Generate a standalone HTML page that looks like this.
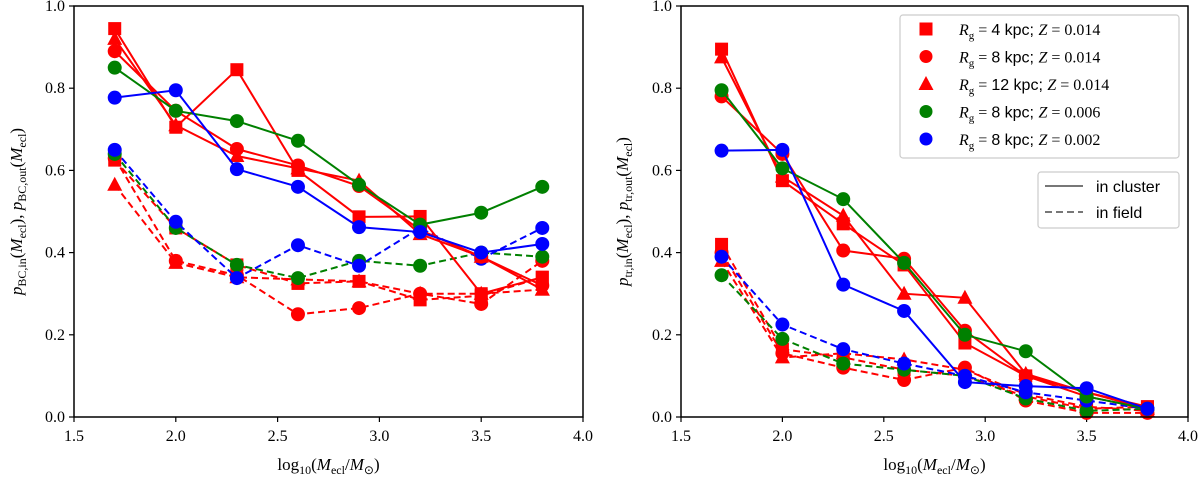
<!DOCTYPE html>
<html><head><meta charset="utf-8"><style>
body{margin:0;background:#fff;width:1200px;height:476px;overflow:hidden}
svg{font-family:"Liberation Serif",serif}
</style></head><body>
<svg id="chart" width="1200" height="476" xmlns="http://www.w3.org/2000/svg"></svg>
<script>
const xCats=[1.7,2.0,2.3,2.6,2.9,3.2,3.5,3.8];
const xTicks=[1.5,2.0,2.5,3.0,3.5,4.0];
const yTicks=[0.0,0.2,0.4,0.6,0.8,1.0];
const seriesNames=["rg4-z014","rg8-z014","rg12-z014","rg8-z006","rg8-z002"];
const seriesColors=["#ff0000","#ff0000","#ff0000","#008000","#0000ff"];
const seriesMarkers=["square","circle","triangle","circle","circle"];
const legendLabels=["4 kpc; ","8 kpc; ","12 kpc; ","8 kpc; ","8 kpc; "];
const legendZ=["0.014","0.014","0.014","0.006","0.002"];
// left panel p_BC
const bcIn4=[0.945,0.705,0.845,0.60,0.487,0.488,0.30,0.34];
const bcIn8=[0.89,0.745,0.652,0.612,0.562,0.455,0.39,0.32];
const bcIn12=[0.92,0.71,0.635,0.605,0.575,0.445,0.39,0.31];
const bcIn8z006=[0.85,0.745,0.72,0.672,0.565,0.468,0.497,0.56];
const bcIn8z002=[0.777,0.795,0.603,0.56,0.462,0.45,0.40,0.421];
const bcOut4=[0.625,0.46,0.37,0.325,0.33,0.285,0.295,0.34];
const bcOut8=[0.63,0.38,0.345,0.25,0.265,0.30,0.275,0.38];
const bcOut12=[0.565,0.375,0.34,0.335,0.33,0.30,0.30,0.31];
const bcOut8z006=[0.64,0.46,0.37,0.338,0.38,0.368,0.40,0.39];
const bcOut8z002=[0.65,0.475,0.338,0.418,0.368,0.46,0.385,0.46];
// right panel p_tr
const trIn4=[0.895,0.575,0.47,0.37,0.18,0.10,0.06,0.025];
const trIn8=[0.78,0.64,0.405,0.385,0.21,0.10,0.05,0.02];
const trIn12=[0.875,0.585,0.49,0.30,0.29,0.105,0.06,0.02];
const trIn8z006=[0.795,0.605,0.53,0.375,0.20,0.16,0.05,0.02];
const trIn8z002=[0.648,0.65,0.322,0.258,0.085,0.075,0.07,0.02];
const trOut4=[0.42,0.165,0.145,0.115,0.10,0.05,0.02,0.025];
const trOut8=[0.40,0.155,0.12,0.09,0.12,0.04,0.01,0.01];
const trOut12=[0.38,0.145,0.155,0.14,0.115,0.055,0.025,0.015];
const trOut8z006=[0.345,0.19,0.13,0.115,0.10,0.045,0.015,0.02];
const trOut8z002=[0.39,0.225,0.165,0.13,0.10,0.06,0.04,0.02];

const NS="http://www.w3.org/2000/svg";
const svg=document.getElementById('chart');
function mk(tag,attrs,parent,text){const e=document.createElementNS(NS,tag);for(const k in attrs)e.setAttribute(k,attrs[k]);if(text!==undefined)e.textContent=text;(parent||svg).appendChild(e);return e;}

function marker(g,type,cx,cy,color,r){
  let m;
  if(type==="square")m=mk('rect',{x:cx-6.5,y:cy-6.5,width:13,height:13,fill:color},g);
  else if(type==="triangle")m=mk('polygon',{points:`${cx},${cy-8} ${cx-7.5},${cy+6} ${cx+7.5},${cy+6}`,fill:color},g);
  else m=mk('circle',{cx:cx,cy:cy,r:r||7,fill:color},g);
  return m;
}

function panel(name,x0,x1,y0,y1,inSets,outSets,labelX,titleParts){
  const g=mk('g',{});
  
  
  const sx=v=>x0+(v-1.5)/(4.0-1.5)*(x1-x0);
  const sy=v=>y1-(v-0)/(1.0)*(y1-y0);
  // ticks
  xTicks.forEach(t=>{
    mk('line',{x1:sx(t),x2:sx(t),y1:y1,y2:y1+5,stroke:'#000','stroke-width':1.2},g);
    const tl=mk('text',{x:sx(t),y:y1+24,'text-anchor':'middle','font-size':16},g,t.toFixed(1));
    
    
  });
  yTicks.forEach(t=>{
    mk('line',{x1:x0-5,x2:x0,y1:sy(t),y2:sy(t),stroke:'#000','stroke-width':1.2},g);
    const tl=mk('text',{x:x0-9,y:sy(t)+5,'text-anchor':'end','font-size':16},g,t.toFixed(1));
    
    
  });
  const draw=(sets,dash)=>{
    sets.forEach((vals,i)=>{
      const pts=vals.map((v,j)=>sx(xCats[j])+','+sy(v)).join(' ');
      const l=mk('polyline',{points:pts,fill:'none',stroke:seriesColors[i],'stroke-width':2,'stroke-dasharray':dash?'7,4':'none'},g);
      
      
      vals.forEach((v,j)=>{
        const m=marker(g,seriesMarkers[i],sx(xCats[j]),sy(v),seriesColors[i]);
        
        
      });
    });
  };
  draw(outSets,true);
  draw(inSets,false);
  const fr=mk('rect',{x:x0,y:y0,width:x1-x0,height:y1-y0,fill:'none',stroke:'#000','stroke-width':1.5},g);
  
  
  const xt=mk('text',{x:(x0+x1)/2,y:470,'text-anchor':'middle','font-size':17},g);
  
  
  xt.innerHTML='log<tspan font-size="12" dy="4">10</tspan><tspan dy="-4">(</tspan><tspan font-style="italic">M</tspan><tspan font-size="12" dy="4">ecl</tspan><tspan dy="-4">/</tspan><tspan font-style="italic">M</tspan><tspan font-size="12" dy="4">⊙</tspan><tspan dy="-4">)</tspan>';
  const yt=mk('text',{x:0,y:0,'text-anchor':'middle','font-size':17,transform:`translate(${labelX},${(y0+y1)/2}) rotate(-90)`},g);
  
  
  const s=titleParts;
  yt.innerHTML=`<tspan font-style="italic">p</tspan><tspan font-size="12" dy="4">${s},in</tspan><tspan dy="-4">(</tspan><tspan font-style="italic">M</tspan><tspan font-size="12" dy="4">ecl</tspan><tspan dy="-4">), </tspan><tspan font-style="italic">p</tspan><tspan font-size="12" dy="4">${s},out</tspan><tspan dy="-4">(</tspan><tspan font-style="italic">M</tspan><tspan font-size="12" dy="4">ecl</tspan><tspan dy="-4">)</tspan>`;
  return g;
}

panel('left-panel',74,583,6,417,[bcIn4,bcIn8,bcIn12,bcIn8z006,bcIn8z002],[bcOut4,bcOut8,bcOut12,bcOut8z006,bcOut8z002],22,'BC');
panel('right-panel',681,1188,6,417,[trIn4,trIn8,trIn12,trIn8z006,trIn8z002],[trOut4,trOut8,trOut12,trOut8z006,trOut8z002],628,'tr');

// legend 1
const lg=mk('g',{});


mk('rect',{x:900,y:15,width:279,height:143,rx:3,fill:'#fff',stroke:'#ccc','stroke-width':1.2},lg);
seriesNames.forEach((n,i)=>{
  const y=29+i*27.5;
  const m=marker(lg,seriesMarkers[i],926,y,seriesColors[i],6.5);
  
  
  const t=mk('text',{x:959,y:y+6,'font-size':16},lg);
  
  
  t.innerHTML=`<tspan font-style="italic">R</tspan><tspan font-size="11" dy="4">g</tspan><tspan dy="-4"> = </tspan><tspan font-family="Liberation Sans">${legendLabels[i]}</tspan><tspan font-style="italic">Z</tspan> = ${legendZ[i]}`;
});
// legend 2
const lg2=mk('g',{});


mk('rect',{x:1038,y:172,width:141,height:56,rx:3,fill:'#fff',stroke:'#ccc','stroke-width':1.2},lg2);
mk('line',{x1:1045,x2:1083,y1:186,y2:186,stroke:'#777','stroke-width':2},lg2);
mk('line',{x1:1045,x2:1083,y1:212,y2:212,stroke:'#777','stroke-width':2,'stroke-dasharray':'7,4'},lg2);
const a=mk('text',{x:1096,y:192,'font-size':16,'font-family':'Liberation Sans'},lg2,'in cluster');


const b=mk('text',{x:1096,y:218,'font-size':16,'font-family':'Liberation Sans'},lg2,'in field');


</script>
</body></html>
